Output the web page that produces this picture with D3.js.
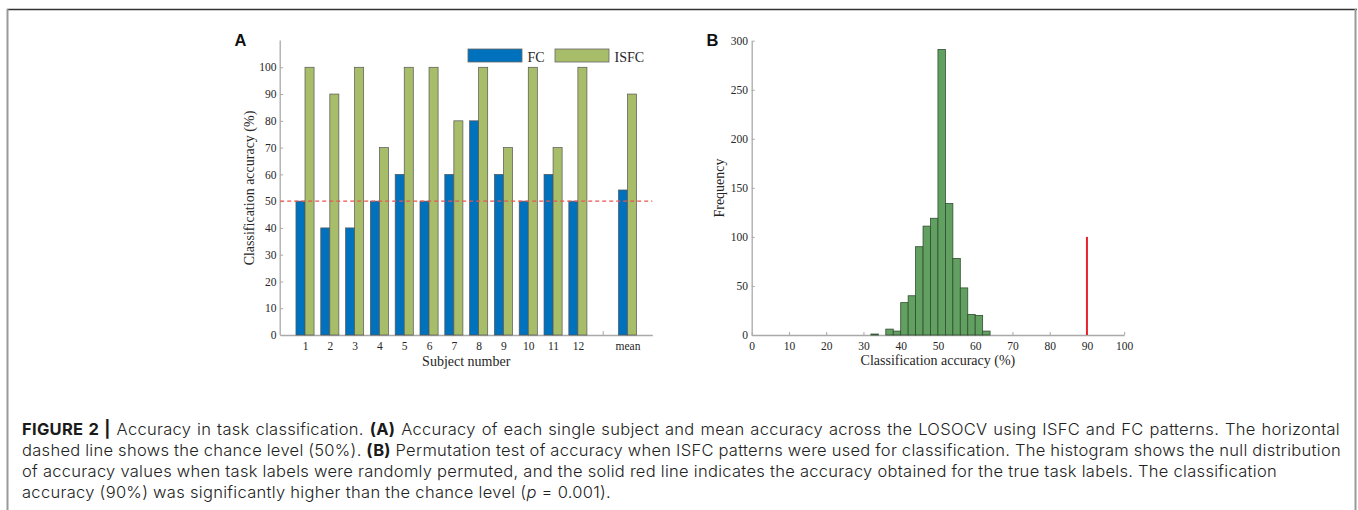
<!DOCTYPE html>
<html>
<head>
<meta charset="utf-8">
<script src="https://cdn.jsdelivr.net/npm/d3@7"></script>
<style>
  body { margin: 0; background: #fff; }
  #wrap { position: relative; width: 1358px; height: 510px; overflow: hidden; }
  svg { position: absolute; left: 0; top: 0; }
  .cap { position: absolute; left: 22px; font-family: Inter, "Liberation Sans", Arial, sans-serif; font-weight: 300; font-size: 16.5px; line-height: 21px; color: #222; white-space: nowrap; }
  .cap b { font-weight: 700; color: #1a1a1a; }
</style>
</head>
<body>
<div id="wrap"></div>
<script>
// ---------- data ----------
const categories = ["1","2","3","4","5","6","7","8","9","10","11","12","","mean"];
const fcValues   = [50,40,40,50,60,50,60,80,60,50,60,50,null,54.17];
const isfcValues = [100,90,100,70,100,100,80,100,70,100,70,100,null,90];
const seriesNames = ["FC","ISFC"];
const yTicksA = [0,10,20,30,40,50,60,70,80,90,100];
const chanceLevel = 50;

const binStarts = [32,34,36,38,40,42,44,46,48,50,52,54,56,58,60,62];
const binCounts = [1,0,6,4,33,40,90,111,119,291,134,78,48,21,20,4];
const binWidth = 2;
const trueAccuracy = 90;
const trueLineHeight = 100;
const xTicksB = [0,10,20,30,40,50,60,70,80,90,100];
const yTicksB = [0,50,100,150,200,250,300];

// ---------- styles ----------
const serif = '"Liberation Serif", "Times New Roman", serif';
const axisColor = "#a9a9a9";
const textColor = "#262626";
const fcColor = "#0072bd";
const isfcColor = "#a8bd69";
const histColor = "#62a062";

const wrap = d3.select("#wrap");
const svg = wrap.append("svg").attr("width", 1358).attr("height", 510);

// frame
svg.append("line").attr("x1", 7).attr("x2", 1357).attr("y1", 9.5).attr("y2", 9.5)
  .attr("stroke", "#333").attr("stroke-width", 1.6);
svg.append("line").attr("x1", 7.5).attr("x2", 7.5).attr("y1", 9).attr("y2", 510)
  .attr("stroke", "#999").attr("stroke-width", 2);
svg.append("line").attr("x1", 1355.5).attr("x2", 1355.5).attr("y1", 9).attr("y2", 510)
  .attr("stroke", "#999").attr("stroke-width", 2);

function styleAxis(g, fs) {
  g.select(".domain").attr("stroke", axisColor).attr("stroke-width", 1.3);
  g.selectAll(".tick line").attr("stroke", axisColor).attr("stroke-width", 1);
  g.selectAll(".tick text").attr("fill", textColor).style("font-family", serif).style("font-size", fs + "px");
}

// ---------- Panel A ----------
const xA = d3.scaleLinear().domain([0, categories.length + 1]).range([280.2, 652.3]);
const yA = d3.scaleLinear().domain([0, 110]).range([335, 40.5]);
const bw = xA(0.365) - xA(0);

const gA = svg.append("g");

const axAx = gA.append("g").attr("transform", `translate(0,${yA(0)})`)
  .call(d3.axisBottom(xA).tickValues(categories.map((c, i) => i + 1))
    .tickFormat((d) => categories[d - 1]).tickSizeInner(-4).tickSizeOuter(0).tickPadding(6.8));
styleAxis(axAx, 11.5);
const ayAx = gA.append("g").attr("transform", `translate(${xA(0)},0)`)
  .call(d3.axisLeft(yA).tickValues(yTicksA).tickSizeInner(-3).tickSizeOuter(0).tickPadding(3.6));
styleAxis(ayAx, 11.5);
ayAx.select(".domain").attr("d", `M0,${yA(0)}V${yA(110)}`);

const rowsA = categories.map((c, i) => ({ pos: i + 1, fc: fcValues[i], isfc: isfcValues[i] }))
  .filter(d => d.fc !== null);

gA.selectAll("rect.fc").data(rowsA).join("rect").attr("class", "fc")
  .attr("x", d => xA(d.pos) - bw).attr("width", bw)
  .attr("y", d => yA(d.fc)).attr("height", d => yA(0) - yA(d.fc))
  .attr("fill", fcColor).attr("stroke", "#555").attr("stroke-width", 0.7);
gA.selectAll("rect.isfc").data(rowsA).join("rect").attr("class", "isfc")
  .attr("x", d => xA(d.pos)).attr("width", bw)
  .attr("y", d => yA(d.isfc)).attr("height", d => yA(0) - yA(d.isfc))
  .attr("fill", isfcColor).attr("stroke", "#555").attr("stroke-width", 0.7);

// chance line
gA.append("line").attr("x1", xA(0)).attr("x2", xA(categories.length + 1))
  .attr("y1", yA(chanceLevel)).attr("y2", yA(chanceLevel))
  .attr("stroke", "#ea5450").attr("stroke-width", 1.3).attr("stroke-dasharray", "4,3");

// legend
const legend = [
  { name: seriesNames[0], color: fcColor, x: 468 },
  { name: seriesNames[1], color: isfcColor, x: 555 }
];
legend.forEach(l => {
  gA.append("rect").attr("x", l.x).attr("y", 49).attr("width", 54).attr("height", 13)
    .attr("fill", l.color).attr("stroke", "#666").attr("stroke-width", 0.8);
  gA.append("text").attr("x", l.x + 59.5).attr("y", 61.5).text(l.name)
    .attr("fill", textColor).style("font-family", serif).style("font-size", "14px");
});

// labels
gA.append("text").attr("transform", "translate(254,188) rotate(-90)").attr("text-anchor", "middle")
  .text("Classification accuracy (%)").attr("fill", textColor).style("font-family", serif).style("font-size", "14px");
gA.append("text").attr("x", (xA(0) + xA(categories.length + 1)) / 2).attr("y", 366).attr("text-anchor", "middle")
  .text("Subject number").attr("fill", textColor).style("font-family", serif).style("font-size", "14px");
gA.append("text").attr("x", 234.5).attr("y", 46).text("A")
  .attr("fill", "#111").style("font-family", '"Liberation Sans", Arial, sans-serif').style("font-weight", "bold").style("font-size", "16.5px");

// ---------- Panel B ----------
const xB = d3.scaleLinear().domain([0, 100]).range([751.7, 1124.2]);
const yB = d3.scaleLinear().domain([0, 300]).range([335, 40.7]);
const gB = svg.append("g");

const bxAx = gB.append("g").attr("transform", `translate(0,${yB(0)})`)
  .call(d3.axisBottom(xB).tickValues(xTicksB).tickSizeInner(-3).tickSizeOuter(0).tickPadding(6.8));
styleAxis(bxAx, 11.5);
const byAx = gB.append("g").attr("transform", `translate(${xB(0)},0)`)
  .call(d3.axisLeft(yB).tickValues(yTicksB).tickSizeInner(-3).tickSizeOuter(0).tickPadding(3.6));
styleAxis(byAx, 11.5);

const rowsB = binStarts.map((s, i) => ({ x0: s, x1: s + binWidth, n: binCounts[i] })).filter(d => d.n > 0);
gB.selectAll("rect.h").data(rowsB).join("rect").attr("class", "h")
  .attr("x", d => xB(d.x0)).attr("width", d => xB(d.x1) - xB(d.x0))
  .attr("y", d => yB(d.n)).attr("height", d => yB(0) - yB(d.n))
  .attr("fill", histColor).attr("stroke", "#2f4d2f").attr("stroke-width", 0.8);

gB.append("line").attr("x1", xB(trueAccuracy)).attr("x2", xB(trueAccuracy))
  .attr("y1", yB(0)).attr("y2", yB(trueLineHeight))
  .attr("stroke", "#e8222a").attr("stroke-width", 2);

gB.append("text").attr("transform", "translate(724,188) rotate(-90)").attr("text-anchor", "middle")
  .text("Frequency").attr("fill", textColor).style("font-family", serif).style("font-size", "14px");
gB.append("text").attr("x", (xB(0) + xB(100)) / 2).attr("y", 365).attr("text-anchor", "middle")
  .text("Classification accuracy (%)").attr("fill", textColor).style("font-family", serif).style("font-size", "14px");
gB.append("text").attr("x", 706.5).attr("y", 46).text("B")
  .attr("fill", "#111").style("font-family", '"Liberation Sans", Arial, sans-serif').style("font-weight", "bold").style("font-size", "16.5px");

// ---------- caption ----------
const capLines = [
  { width: 1318, html: '<b>FIGURE 2 |</b> Accuracy in task classification. <b>(A)</b> Accuracy of each single subject and mean accuracy across the LOSOCV using ISFC and FC patterns. The horizontal' },
  { width: 1319, html: 'dashed line shows the chance level (50%). <b>(B)</b> Permutation test of accuracy when ISFC patterns were used for classification. The histogram shows the null distribution' },
  { width: 1255, html: 'of accuracy values when task labels were randomly permuted, and the solid red line indicates the accuracy obtained for the true task labels. The classification' },
  { width: 589, html: 'accuracy (90%) was significantly higher than the chance level (<i>p</i> = 0.001).' }
];
const capBaselines = [435, 456, 477, 498];
const capDivs = capLines.map((l, i) => wrap.append("div").attr("class", "cap")
  .style("top", (capBaselines[i] - 16.5) + "px").html(l.html));

// letter spacing from the unjustified last line, then word spacing to justify the others
const last = capDivs[3].node();
const nChars = last.textContent.length;
const ls = (capLines[3].width - last.getBoundingClientRect().width) / nChars;
capDivs.forEach(d => d.style("letter-spacing", ls + "px"));
capDivs.forEach((d, i) => {
  if (i === 3) return;
  const w = d.node().getBoundingClientRect().width;
  const spaces = (d.node().textContent.match(/ /g) || []).length;
  d.style("word-spacing", ((capLines[i].width - w) / spaces) + "px");
});
</script>
</body>
</html>
